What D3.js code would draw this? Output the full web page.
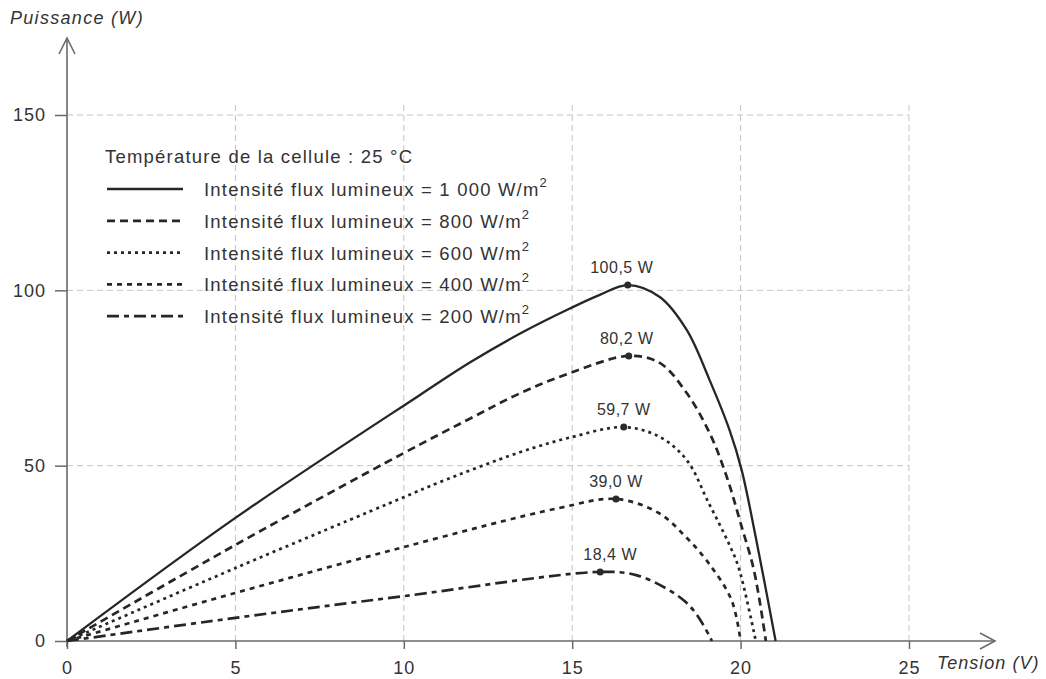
<!DOCTYPE html>
<html>
<head>
<meta charset="utf-8">
<script src="https://cdn.jsdelivr.net/npm/d3@7"></script>
<style>
  body { margin: 0; background: #fff; }
  svg { display: block; font-family: "Liberation Sans", Arial, sans-serif; }
  text { fill: #333; }
</style>
</head>
<body>
<svg width="1046" height="679"></svg>
<script>
// data
var irradiance = ["1 000", "800", "600", "400", "200"];
var peakLabels = ["100,5 W", "80,2 W", "59,7 W", "39,0 W", "18,4 W"];

var v1000 = [0, 5, 10.47, 11.96, 13.44, 14.93, 15.82, 16.65, 17.6, 18.4, 19.08, 19.67, 20.03, 20.45, 21.04];
var p1000 = [0, 35.1, 70.1, 79.4, 87.6, 94.8, 98.7, 101.5, 98.1, 88.7, 74.4, 60.2, 48.8, 29.6, 0];

var v800 = [0, 5, 10, 11.96, 13.44, 14.93, 16.68, 17.6, 18.4, 19.08, 19.6, 20.0, 20.4, 20.75];
var p800 = [0, 27.4, 53.6, 63.4, 70.6, 76.4, 81.3, 79.3, 70.7, 59.3, 46.5, 33.6, 20.0, 0];

var v600 = [0, 5, 10, 11.04, 13.44, 14.93, 16.53, 17.6, 18.4, 19.05, 19.64, 19.94, 20.45];
var p600 = [0, 20.8, 41.0, 45.2, 53.8, 58.0, 61.0, 58.2, 51.6, 39.4, 28.0, 21.0, 0];

var v400 = [0, 5, 10, 14.6, 16.3, 17.57, 18.37, 19.05, 19.73, 20.0];
var p400 = [0, 13.7, 26.8, 37.9, 40.5, 36.5, 29.7, 22.2, 11.7, 0];

var v200 = [0, 5, 10, 15.83, 16.9, 17.77, 18.37, 18.75, 19.15];
var p200 = [0, 6.6, 12.8, 19.7, 18.8, 15.1, 11.1, 6.8, 0];

var xTicks = [0, 5, 10, 15, 20, 25];
var yTicks = [0, 50, 100, 150];

// styles
var dashes = [null, "8,5", "3,4", "5,5", "12,5,5,5"];
var labelNudge = [-6, -2, 0, 0, 10];

var svg = d3.select("svg");

var x = d3.scaleLinear().domain([0, 25]).range([67, 909]);
var y = d3.scaleLinear().domain([0, 150]).range([641, 115]);

var series = [
  {v: v1000, p: p1000},
  {v: v800, p: p800},
  {v: v600, p: p600},
  {v: v400, p: p400},
  {v: v200, p: p200}
].map(function(s, i) {
  return {
    i: i,
    pts: s.v.map(function(d, j) { return [d, s.p[j]]; })
  };
});

// grid
var grid = svg.append("g")
    .attr("stroke", "#c4c4c8")
    .attr("stroke-width", 1)
    .attr("stroke-dasharray", "6,4");

grid.selectAll("line.v")
  .data(xTicks.slice(1))
  .enter().append("line")
    .attr("x1", function(d) { return x(d); })
    .attr("x2", function(d) { return x(d); })
    .attr("y1", y(0))
    .attr("y2", y(153));

grid.selectAll("line.h")
  .data(yTicks.slice(1))
  .enter().append("line")
    .attr("x1", x(0))
    .attr("x2", x(25))
    .attr("y1", function(d) { return y(d); })
    .attr("y2", function(d) { return y(d); });

// axes
var axisColor = "#6a6a6a";

var xAxis = svg.append("g")
    .attr("transform", "translate(0," + y(0) + ")")
    .call(d3.axisBottom(x).tickValues(xTicks).tickSize(8).tickPadding(12));
xAxis.select(".domain").remove();
xAxis.selectAll("line").attr("stroke", axisColor).attr("stroke-width", 1.5);
xAxis.selectAll("text").style("font-size", "18px").style("letter-spacing", "1px").attr("fill", "#333");

var yAxis = svg.append("g")
    .attr("transform", "translate(" + x(0) + ",0)")
    .call(d3.axisLeft(y).tickValues(yTicks).tickSize(12).tickPadding(9));
yAxis.select(".domain").remove();
yAxis.selectAll("line").attr("stroke", axisColor).attr("stroke-width", 1.5);
yAxis.selectAll("text").style("font-size", "18px").style("letter-spacing", "1px").attr("fill", "#333");

var ax = svg.append("g")
    .attr("stroke", axisColor)
    .attr("stroke-width", 1.6)
    .attr("fill", "none");

ax.append("line")
    .attr("x1", x(0)).attr("x2", 995)
    .attr("y1", y(0)).attr("y2", y(0));
ax.append("path")
    .attr("d", "M" + 980 + "," + (y(0) - 8) + "L995," + y(0) + "L" + 980 + "," + (y(0) + 8));

ax.append("line")
    .attr("x1", x(0)).attr("x2", x(0))
    .attr("y1", y(0) + 6).attr("y2", 38);
ax.append("path")
    .attr("d", "M" + (x(0) - 8) + ",54L" + x(0) + ",38L" + (x(0) + 8) + ",54");

svg.append("text")
    .attr("x", 10).attr("y", 24)
    .style("font-size", "18px").style("font-style", "italic").style("letter-spacing", "1.3px")
    .text("Puissance (W)");

svg.append("text")
    .attr("x", 937).attr("y", 669)
    .style("font-size", "18px").style("font-style", "italic").style("letter-spacing", "1px")
    .text("Tension (V)");

// curves
var line = d3.line()
    .x(function(d) { return x(d[0]); })
    .y(function(d) { return y(d[1]); })
    .curve(d3.curveCatmullRom.alpha(0.5));

svg.append("g")
  .selectAll("path")
  .data(series)
  .enter().append("path")
    .attr("d", function(d) { return line(d.pts); })
    .attr("fill", "none")
    .attr("stroke", "#262626")
    .attr("stroke-width", function(d) { return d.i === 0 ? 2.3 : 2.7; })
    .attr("stroke-dasharray", function(d) { return dashes[d.i]; });

// maximum power points
var peaks = series.map(function(s) {
  return s.pts.reduce(function(a, b) { return b[1] > a[1] ? b : a; });
});

svg.append("g")
  .selectAll("circle")
  .data(peaks)
  .enter().append("circle")
    .attr("cx", function(d) { return x(d[0]); })
    .attr("cy", function(d) { return y(d[1]); })
    .attr("r", 3.5)
    .attr("fill", "#2a2a2a");

svg.append("g")
  .selectAll("text")
  .data(peaks)
  .enter().append("text")
    .attr("x", function(d, i) { return x(d[0]) + labelNudge[i]; })
    .attr("y", function(d) { return y(d[1]) - 12; })
    .attr("text-anchor", "middle")
    .style("font-size", "16px")
    .style("letter-spacing", "0.5px")
    .text(function(d, i) { return peakLabels[i]; });

// legend
var legend = svg.append("g");

legend.append("text")
    .attr("x", 105).attr("y", 163)
    .style("font-size", "18.5px")
    .style("letter-spacing", "1.2px")
    .text("Température de la cellule : 25 °C");

var rows = legend.selectAll("g.row")
  .data(irradiance)
  .enter().append("g")
    .attr("transform", function(d, i) { return "translate(0," + (189 + i * 31.8) + ")"; });

rows.append("line")
    .attr("x1", 107).attr("x2", 183)
    .attr("y1", 0).attr("y2", 0)
    .attr("stroke", "#262626")
    .attr("stroke-width", function(d, i) { return i === 0 ? 2.3 : 2.7; })
    .attr("stroke-dasharray", function(d, i) { return dashes[i]; });

var lt = rows.append("text")
    .attr("x", 204).attr("y", 7)
    .style("font-size", "18.5px")
    .style("letter-spacing", "1.2px");
lt.append("tspan").text(function(d) { return "Intensité flux lumineux = " + d + " W/m"; });
lt.append("tspan")
    .attr("dy", -9)
    .style("font-size", "13px")
    .text("2");
</script>
</body>
</html>
